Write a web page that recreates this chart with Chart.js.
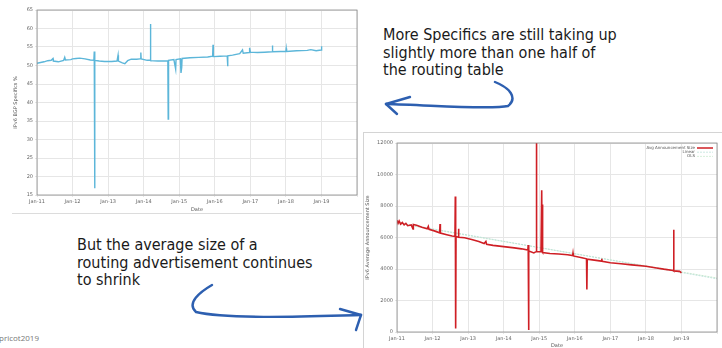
<!DOCTYPE html>
<html>
<head>
<meta charset="utf-8">
<script src="https://cdn.jsdelivr.net/npm/chart.js@4/dist/chart.umd.min.js"></script>
<style>
  html, body { margin: 0; padding: 0; background: #fff; }
  body { width: 722px; height: 348px; position: relative; overflow: hidden; font-family: "DejaVu Sans", sans-serif; }
  .panel { position: absolute; background: #fff; }
  #leftPanel { left: 12px; top: 0; width: 350px; height: 213px; border-bottom: 1px solid #dcdcdc; }
  #rightPanel { left: 363px; top: 132px; width: 359px; height: 216px; border-top: 1px solid #d4d4d4; border-left: 1px solid #d4d4d4; }
  canvas { position: absolute; left: 0; top: 0; }
  .note { position: absolute; font-family: "DejaVu Sans Condensed", "DejaVu Sans", sans-serif; font-size: 16px; line-height: 17.5px; color: #1a1a1a; white-space: nowrap; }
  #note1 { left: 383px; top: 26px; }
  #note2 { left: 77px; top: 236px; }
  #footer { position: absolute; left: -1px; top: 332px; font-size: 8px; color: #777; font-family: "Open Sans", sans-serif; }
  svg { position: absolute; left: 0; top: 0; }
</style>
</head>
<body>

<div class="panel" id="leftPanel"><canvas id="leftChart" width="350" height="213"></canvas></div>
<div class="panel" id="rightPanel"><canvas id="rightChart" width="359" height="216"></canvas></div>

<div class="note" id="note1">More Specifics are still taking up<br>slightly more than one half of<br>the routing table</div>
<div class="note" id="note2">But the average size of a<br>routing advertisement continues<br>to shrink</div>
<div id="footer">pricot2019</div>

<svg width="722" height="348">
  <g fill="none" stroke="#2d5fb0" stroke-width="2.4" stroke-linecap="round" stroke-linejoin="round">
    <path d="M495 82 C 510 88, 518 98, 508 106 C 490 110, 430 105, 386 104" />
    <path d="M386 104 L 410 97" />
    <path d="M386 104 L 397 114" />
    <path d="M212 285 C 200 292, 186 303, 196 312 C 230 320, 320 316, 361 315" />
    <path d="M361 315 L 340 309" />
    <path d="M361 315 L 356 330" />
  </g>
</svg>

<script>
// IPv6 more specifics (%), decimal years
const leftYears = [
  2011.00, 2011.10, 2011.20, 2011.30, 2011.40, 2011.45, 2011.46, 2011.60, 2011.75, 2011.78,
  2011.80, 2011.95, 2012.00, 2012.10, 2012.20, 2012.35, 2012.50, 2012.60, 2012.61, 2012.62,
  2012.63, 2012.75, 2012.90, 2013.10, 2013.25, 2013.28, 2013.29, 2013.40, 2013.47, 2013.55,
  2013.65, 2013.80, 2013.90, 2013.92, 2013.93, 2014.10, 2014.18, 2014.19, 2014.20, 2014.40,
  2014.60, 2014.68, 2014.69, 2014.70, 2014.85, 2014.90, 2014.91, 2015.03, 2015.05, 2015.07,
  2015.08, 2015.30, 2015.55, 2015.80, 2015.94, 2015.95, 2015.96, 2016.15, 2016.35, 2016.36,
  2016.37, 2016.50, 2016.70, 2016.78, 2016.80, 2016.97, 2016.98, 2017.00, 2017.20, 2017.40,
  2017.61, 2017.62, 2017.63, 2017.85, 2018.00, 2018.01, 2018.02, 2018.30, 2018.60, 2018.70,
  2018.85, 2018.99, 2019.00, 2019.01
];
const leftValues = [
  50.6, 50.8, 51.0, 51.3, 51.4, 51.9, 51.2, 51.0, 51.4, 52.2,
  51.5, 51.6, 51.8, 51.9, 52.0, 51.8, 51.5, 51.4, 53.8, 16.8,
  51.4, 51.2, 51.1, 51.1, 51.2, 52.8, 51.2, 50.7, 50.5, 51.3,
  51.7, 51.7, 51.8, 53.5, 51.8, 51.4, 51.4, 61.2, 51.3, 51.2,
  51.2, 51.3, 35.5, 51.4, 51.6, 49.0, 51.6, 51.8, 48.0, 49.5,
  51.9, 52.1, 52.2, 52.3, 52.5, 55.6, 52.4, 52.5, 52.6, 49.8,
  52.6, 52.8, 53.2, 54.2, 53.3, 53.5, 54.8, 53.6, 53.5, 53.6,
  53.7, 55.4, 53.7, 53.8, 53.8, 54.6, 53.8, 54.0, 54.1, 54.3,
  54.0, 54.2, 55.2, 54.3
];

// IPv6 average announcement size, decimal years
const rightYears = [
  2011.00, 2011.03, 2011.06, 2011.10, 2011.15, 2011.20, 2011.25, 2011.30, 2011.40, 2011.45,
  2011.46, 2011.55, 2011.70, 2011.85, 2011.88, 2011.90, 2012.05, 2012.20, 2012.21, 2012.22,
  2012.40, 2012.55, 2012.63, 2012.64, 2012.65, 2012.66, 2012.72, 2012.73, 2012.74, 2012.90,
  2013.10, 2013.30, 2013.45, 2013.50, 2013.52, 2013.70, 2014.00, 2014.30, 2014.50, 2014.68,
  2014.69, 2014.70, 2014.71, 2014.85, 2014.91, 2014.92, 2014.93, 2015.05, 2015.07, 2015.08,
  2015.09, 2015.10, 2015.30, 2015.55, 2015.80, 2015.94, 2015.95, 2015.96, 2016.20, 2016.33,
  2016.34, 2016.35, 2016.60, 2016.75, 2016.76, 2016.77, 2017.00, 2017.30, 2017.60, 2018.00,
  2018.30, 2018.50, 2018.77, 2018.78, 2018.79, 2018.95, 2019.00
];
const rightValues = [
  7100, 6900, 7050, 6850, 6950, 6800, 6900, 6750, 6800, 6550,
  6820, 6780, 6650, 6550, 6700, 6520, 6420, 6300, 6850, 6280,
  6180, 6100, 6070, 8600, 230, 6050, 6030, 6550, 6020, 5980,
  5870, 5740, 5620, 5750, 5570, 5500, 5420, 5340, 5280, 5200,
  5520, 130, 5150, 5020, 5100, 12000, 5100, 5100, 9000, 5100,
  8100, 5050, 4980, 4950, 4900, 4850, 5000, 4830, 4720, 4650,
  2700, 4620, 4550, 4500, 4650, 4490, 4400, 4330, 4260, 4170,
  4060, 3990, 3910, 6500, 3880, 3850, 3760
];
const fitYears = [2011, 2020];
const linearValues = [6950, 3380];
const olsValues = [6900, 3430];

const tickFont = { family: 'DejaVu Sans', size: 5 };

function toPoints(xs, ys) {
  return xs.map((x, i) => ({ x: x, y: ys[i] }));
}

function yearLabel(v) {
  if (v >= 2020) return '';
  return 'Jan-' + String(v).slice(2);
}

// plot frame around chart area
const framePlugin = {
  id: 'frame',
  afterDraw(chart) {
    const a = chart.chartArea;
    const ctx = chart.ctx;
    ctx.save();
    ctx.strokeStyle = '#8a8a8a';
    ctx.lineWidth = 0.8;
    ctx.strokeRect(a.left, a.top, a.right - a.left, a.bottom - a.top);
    ctx.restore();
  }
};

// gnuplot style key in the top right corner
const keyPlugin = {
  id: 'key',
  afterDraw(chart) {
    if (!chart.options.plugins.key || !chart.options.plugins.key.show) return;
    const a = chart.chartArea;
    const ctx = chart.ctx;
    ctx.save();
    ctx.font = '4px DejaVu Sans';
    ctx.textAlign = 'right';
    ctx.textBaseline = 'middle';
    chart.data.datasets.forEach((ds, i) => {
      const y = a.top + 5 + i * 4.2;
      ctx.fillStyle = '#555';
      ctx.fillText(ds.label, a.right - 22, y);
      ctx.strokeStyle = ds.borderColor;
      ctx.lineWidth = i === 0 ? 1.5 : 0.8;
      ctx.setLineDash(ds.borderDash || []);
      ctx.beginPath();
      ctx.moveTo(a.right - 20, y);
      ctx.lineTo(a.right - 4, y);
      ctx.stroke();
    });
    ctx.restore();
  }
};

function xScale() {
  return {
    type: 'linear',
    min: 2011,
    max: 2020,
    ticks: { stepSize: 1, font: tickFont, color: '#666', padding: 2, maxRotation: 0, autoSkip: false, callback: yearLabel },
    grid: { color: '#e6e6e6', tickLength: 2 },
    border: { display: false },
    title: { display: true, text: 'Date', font: tickFont, color: '#555', padding: { top: 1, bottom: 0 } }
  };
}

new Chart(document.getElementById('leftChart'), {
  type: 'line',
  data: {
    datasets: [{
      label: 'IPv6 More Specifics %',
      data: toPoints(leftYears, leftValues),
      borderColor: '#5cb6d9',
      borderWidth: 1.4,
      pointRadius: 0,
      tension: 0
    }]
  },
  options: {
    responsive: false,
    animation: false,
    devicePixelRatio: 1,
    layout: { padding: { left: 0, right: 5, top: 10, bottom: 0 } },
    plugins: { legend: { display: false }, tooltip: { enabled: false } },
    scales: {
      x: Object.assign(xScale(), { afterFit(s) { s.height = 18; } }),
      y: {
        min: 15,
        max: 65,
        ticks: { stepSize: 5, font: tickFont, color: '#666', padding: 2 },
        grid: { color: '#e6e6e6', tickLength: 2 },
        border: { display: false },
        title: { display: true, text: 'IPv6 BGP Specifics %', font: tickFont, color: '#555', padding: 1 },
        afterFit(s) { s.width = 25; }
      }
    }
  },
  plugins: [framePlugin]
});

new Chart(document.getElementById('rightChart'), {
  type: 'line',
  data: {
    datasets: [{
      label: 'Avg Announcement Size',
      data: toPoints(rightYears, rightValues),
      borderColor: '#cf1f25',
      borderWidth: 1.6,
      pointRadius: 0,
      tension: 0,
      order: 0
    }, {
      label: 'Linear',
      data: toPoints(fitYears, linearValues),
      borderColor: '#bfe2da',
      borderWidth: 1,
      borderDash: [2, 1],
      pointRadius: 0,
      order: 1
    }, {
      label: 'OLS',
      data: toPoints(fitYears, olsValues),
      borderColor: '#cdebd0',
      borderWidth: 1,
      borderDash: [2, 1],
      pointRadius: 0,
      order: 2
    }]
  },
  options: {
    responsive: false,
    animation: false,
    devicePixelRatio: 1,
    layout: { padding: { left: 0, right: 6, top: 10, bottom: 0 } },
    plugins: { legend: { display: false }, tooltip: { enabled: false }, key: { show: true } },
    scales: {
      x: Object.assign(xScale(), { afterFit(s) { s.height = 17; } }),
      y: {
        min: 0,
        max: 12000,
        ticks: { stepSize: 2000, font: tickFont, color: '#666', padding: 2, callback: v => String(v) },
        grid: { color: '#e6e6e6', tickLength: 2 },
        border: { display: false },
        title: { display: true, text: 'IPv6 Average Announcement Size', font: tickFont, color: '#555', padding: 1 },
        afterFit(s) { s.width = 33; }
      }
    }
  },
  plugins: [framePlugin, keyPlugin]
});
</script>
</body>
</html>
